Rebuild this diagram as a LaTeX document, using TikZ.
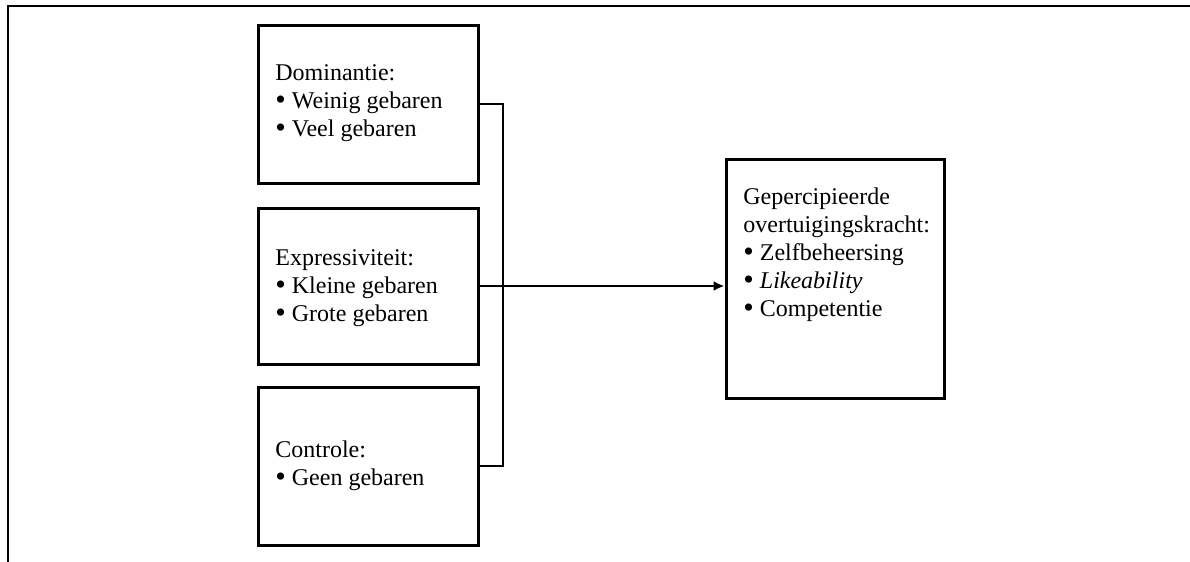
\documentclass[tikz,border=0pt]{standalone}
\usepackage{fontspec}
\setmainfont{Liberation Serif}
\usetikzlibrary{arrows.meta}
\newcommand\blt{\raisebox{-0.6pt}{\fontsize{15}{14}\selectfont\textbullet}\ }
\begin{document}
\begin{tikzpicture}[x=0.5pt,y=-0.5pt,
  box/.style={draw,line width=1.5pt,minimum width=110pt,minimum height=79pt},
  txt/.style={anchor=west,align=left,inner sep=0pt,font=\fontsize{12}{14}\selectfont},
  lnk/.style={line width=1.1pt}]
  \useasboundingbox (0,0) rectangle (1190,562);
  \draw[line width=1.3pt] (8,562) |- (1190,6);
  % the four boxes
  \node[box] (D) at (368,104) {};
  \node[box,minimum height=78pt] (E) at (368,286) {};
  \node[box] (C) at (368,466) {};
  \node[box,minimum width=109pt,minimum height=119.5pt] (P) at (835,278.5) {};
  \path (275,103) node[txt] (Dt) {Dominantie:\\\blt Weinig gebaren\\\blt Veel gebaren}
        (275,288) node[txt] (Et) {Expressiviteit:\\\blt Kleine gebaren\\\blt Grote gebaren}
        (275,466) node[txt] (Ct) {Controle:\\\blt Geen gebaren}
        (743,255) node[txt] (Pt) {Gepercipieerde\\overtuigingskracht:\\\blt Zelfbeheersing\\\blt \textit{Likeability}\\\blt Competentie};
  % connectors
  \coordinate (B) at (503,104);
  \draw[lnk] (D.east) -- (B) |- (C.east);
  \draw[lnk,-{Latex[length=5.5pt,width=5pt]}] (E.east) -- (E.east -| P.west);
\end{tikzpicture}
\end{document}
